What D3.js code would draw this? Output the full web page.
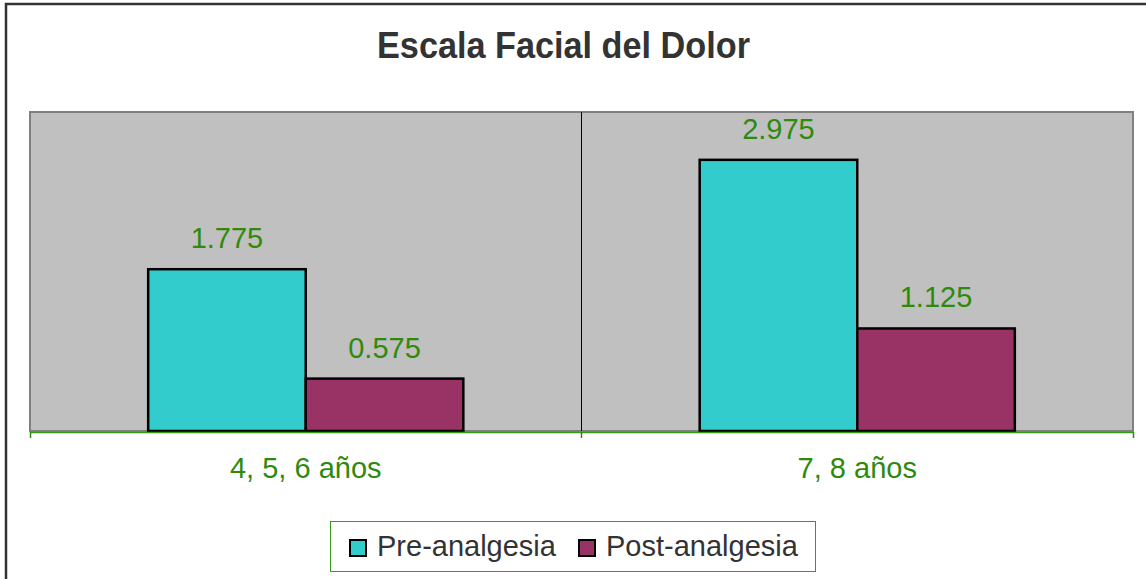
<!DOCTYPE html>
<html>
<head>
<meta charset="utf-8">
<script src="https://cdn.jsdelivr.net/npm/d3@7"></script>
<style>
  html, body { margin: 0; padding: 0; background: #fff; overflow: hidden; }
  text { font-family: 'Liberation Sans', Arial, sans-serif; }
</style>
</head>
<body>
<div id="chart"></div>
<script>
// chart data
const categories = ['4, 5, 6 años', '7, 8 años']
const seriesNames = ['Pre-analgesia', 'Post-analgesia']
const preValues = [1.775, 2.975]
const postValues = [0.575, 1.125]
const labelColor = '#2f8a0c'
const colors = ['#33cccc', '#993366']

const W = 1146
const H = 579
const plot = { left: 30, right: 1133, top: 112, bottom: 431 }

const svg = d3.select('#chart').append('svg')
  .attr('width', W)
  .attr('height', H)

// outer frame (runs off the right and bottom edges)
svg.append('rect')
  .attr('x', 6).attr('y', 4)
  .attr('width', 1160).attr('height', 600)
  .attr('fill', '#fff')
  .attr('stroke', '#333').attr('stroke-width', 2.5)

svg.append('text')
  .attr('x', 377).attr('y', 58)
  .attr('font-size', 37).attr('font-weight', 'bold')
  .attr('textLength', 373).attr('lengthAdjust', 'spacingAndGlyphs')
  .attr('fill', '#333')
  .text('Escala Facial del Dolor')

const x0 = d3.scaleBand().domain(categories).range([plot.left, plot.right])
// gap width 150% of a bar: 2 bars + 1.5 gap per category
const barW = x0.bandwidth() / 3.5
const x1 = d3.scaleBand().domain(seriesNames)
  .range([0, barW * 2])
const y = d3.scaleLinear().domain([0, 3.5]).range([plot.bottom, plot.top])

// plot area
svg.append('rect')
  .attr('x', plot.left).attr('y', plot.top)
  .attr('width', plot.right - plot.left).attr('height', plot.bottom - plot.top)
  .attr('fill', '#c0c0c0')
  .attr('stroke', '#808080').attr('stroke-width', 2)

// category separators
svg.selectAll('.sep')
  .data(categories.slice(1))
  .enter().append('line')
  .attr('x1', d => Math.floor(x0(d)) + 0.5).attr('x2', d => Math.floor(x0(d)) + 0.5)
  .attr('y1', plot.top).attr('y2', plot.bottom)
  .attr('stroke', '#000').attr('stroke-width', 1)

const rows = categories.map((c, i) => ({ cat: c, vals: [preValues[i], postValues[i]] }))

const groups = svg.selectAll('.grp')
  .data(rows)
  .enter().append('g')
  .attr('transform', d => 'translate(' + (x0(d.cat) + barW * 0.75) + ',0)')

groups.selectAll('rect')
  .data(d => d.vals.map((v, j) => ({ name: seriesNames[j], v: v, j: j })))
  .enter().append('rect')
  .attr('x', d => x1(d.name))
  .attr('y', d => y(d.v))
  .attr('width', x1.bandwidth())
  .attr('height', d => y(0) - y(d.v))
  .attr('fill', d => colors[d.j])
  .attr('stroke', '#000').attr('stroke-width', 2.5)

groups.selectAll('.val')
  .data(d => d.vals.map((v, j) => ({ name: seriesNames[j], v: v })))
  .enter().append('text')
  .attr('x', d => x1(d.name) + x1.bandwidth() / 2)
  .attr('y', d => y(d.v) - 21)
  .attr('text-anchor', 'middle')
  .attr('font-size', 29)
  .attr('fill', labelColor)
  .text(d => d3.format('.3f')(d.v))

// x axis
const xAxis = d3.axisBottom(x0).tickSize(0).tickFormat('')
svg.append('g')
  .attr('transform', 'translate(0,' + (plot.bottom + 1) + ')')
  .call(xAxis)
  .call(g => g.select('.domain').attr('stroke', '#3a9a1a').attr('stroke-width', 1.5))

const edges = [plot.left].concat(categories.map(c => x0(c) + x0.bandwidth()))
svg.selectAll('.tick-mark')
  .data(edges)
  .enter().append('line')
  .attr('x1', d => Math.floor(d) + 0.5).attr('x2', d => Math.floor(d) + 0.5)
  .attr('y1', plot.bottom + 1).attr('y2', plot.bottom + 7)
  .attr('stroke', '#2f8a0c').attr('stroke-width', 1.5)

svg.selectAll('.cat')
  .data(categories)
  .enter().append('text')
  .attr('x', d => x0(d) + barW * 0.75 + barW)
  .attr('y', 478)
  .attr('text-anchor', 'middle')
  .attr('font-size', 29)
  .attr('fill', labelColor)
  .text(d => d)

// legend
const legend = svg.append('g')
legend.append('rect')
  .attr('x', 330.5).attr('y', 521.5)
  .attr('width', 485).attr('height', 50)
  .attr('fill', '#fff')
  .attr('stroke', '#3a9a1a').attr('stroke-width', 1)

const legendX = [350, 579]
seriesNames.forEach((name, i) => {
  legend.append('rect')
    .attr('x', legendX[i]).attr('y', 540)
    .attr('width', 16).attr('height', 16)
    .attr('fill', colors[i])
    .attr('stroke', '#000').attr('stroke-width', 2)
  legend.append('text')
    .attr('x', legendX[i] + 27).attr('y', 556)
    .attr('font-size', 29)
    .attr('fill', '#333')
    .text(name)
})
</script>
</body>
</html>
